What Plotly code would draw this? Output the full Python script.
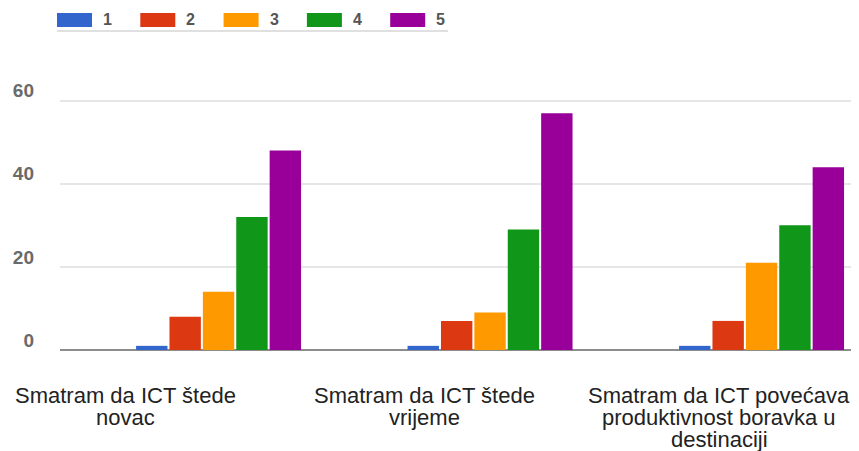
import plotly.graph_objects as go

categories = [
    "Smatram da ICT štede<br>novac",
    "Smatram da ICT štede<br>vrijeme",
    "Smatram da ICT povećava<br>produktivnost boravka u<br>destinaciji",
]
series_names = ["1", "2", "3", "4", "5"]
s1 = [1, 1, 1]
s2 = [8, 7, 7]
s3 = [14, 9, 21]
s4 = [32, 29, 30]
s5 = [48, 57, 44]
series_values = [s1, s2, s3, s4, s5]
colors = ["#3366cc", "#dc3912", "#ff9900", "#109618", "#990099"]
y_ticks = [0, 20, 40, 60]

# the page body adds an 8px margin; lay the figure out in screen pixels minus that offset
OFF = 8
W, H = 859, 451
ML, MR, MT, MB = 60 - OFF, 0, 60 - OFF, 451 - (350 - OFF)
PW, PH = W - ML - MR, H - MT - MB
UNIT = 271.5                      # px per category
X0 = -0.584                       # x value at left edge of plot
X1 = X0 + PW / UNIT

def px(x):
    return (x - OFF - ML) / PW

def py(y):
    return (H - MB - (y - OFF)) / PH

fig = go.Figure()
xs = list(range(len(categories)))
for name, vals, col in zip(series_names, series_values, colors):
    fig.add_trace(go.Bar(x=xs, y=vals, name=name, marker=dict(color=col, line=dict(width=0)),
                         showlegend=False))

# category labels (drawn as text lines below the plot)
label_centers = [125, 424, 719]
line_y = [395, 417, 439]
annotations = []
for cat, cx in zip(categories, label_centers):
    for i, line in enumerate(cat.split("<br>")):
        annotations.append(dict(x=px(cx), y=py(line_y[i]), xref="paper", yref="paper",
                                text=line, showarrow=False, xanchor="center", yanchor="middle",
                                font=dict(family="Liberation Sans, Arial", size=22, color="#222222")))

# legend drawn manually
shapes = []
leg_x0 = 57
leg_step = 83.3
for i, (name, col) in enumerate(zip(series_names, colors)):
    x0 = leg_x0 + i * leg_step
    shapes.append(dict(type="rect", xref="paper", yref="paper",
                       x0=px(x0), x1=px(x0 + 35), y0=py(27), y1=py(13),
                       fillcolor=col, line=dict(width=0)))
    annotations.append(dict(x=px(x0 + 44), y=py(20), xref="paper", yref="paper",
                            text="<b>" + name + "</b>",
                            showarrow=False, xanchor="left", yanchor="middle",
                            font=dict(family="Liberation Sans, Arial", size=16, color="#555555")))
shapes.append(dict(type="line", xref="paper", yref="paper", x0=px(57), x1=px(448),
                   y0=py(31), y1=py(31), line=dict(color="#e0e0e0", width=2)))

fig.update_layout(
    width=W, height=H,
    margin=dict(l=ML, r=MR, t=MT, b=MB, autoexpand=False),
    paper_bgcolor="white", plot_bgcolor="white",
    barmode="group", bargap=0.385, bargroupgap=0.06,
    showlegend=False,
    xaxis=dict(range=[X0, X1], showticklabels=False, showgrid=False, zeroline=False,
               ticks="", automargin=False),
    yaxis=dict(range=[0, 69.8], tickvals=y_ticks, ticktext=["<b>%d</b>" % v for v in y_ticks],
               showgrid=True, gridcolor="#e6e6e6", gridwidth=2,
               zeroline=True, zerolinecolor="#8c8c8c", zerolinewidth=2, automargin=False,
               tickfont=dict(family="Liberation Sans, Arial", size=19, color="#6a6a6a"),
               ticklabelstandoff=25, ticklabelshift=-10),
    annotations=annotations,
    shapes=shapes,
)

fig.write_html("out.html")
